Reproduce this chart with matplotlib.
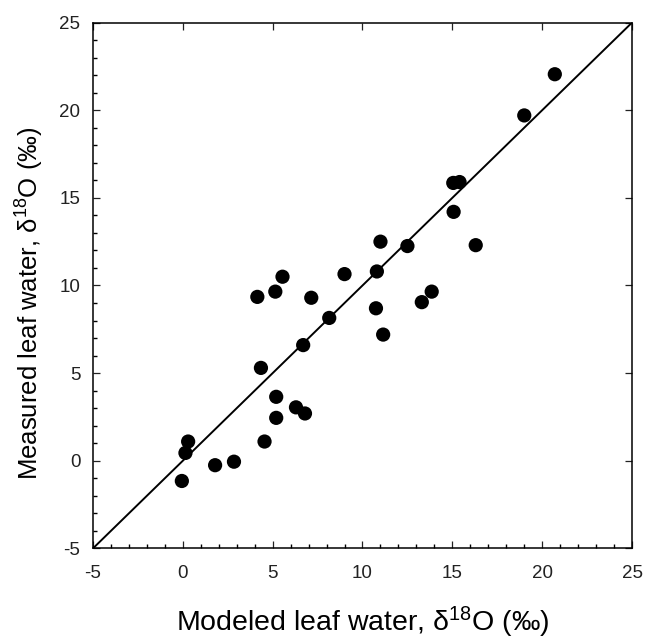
import matplotlib
matplotlib.use("Agg")
import matplotlib.pyplot as plt
from matplotlib.ticker import MultipleLocator

plt.rcParams['font.family'] = ['Liberation Sans', 'DejaVu Sans']
plt.rcParams['mathtext.fontset'] = 'custom'
plt.rcParams['mathtext.rm'] = 'Liberation Sans'
plt.rcParams['mathtext.it'] = 'Liberation Sans'
plt.rcParams['axes.unicode_minus'] = False

# modeled vs measured leaf water d18O (per mil)
modeled = [20.7, 19.0, 15.05, 15.4, 15.07, 16.3, 11.0, 12.5, 10.8, 9.0,
           5.55, 5.15, 4.15, 7.15, 13.85, 13.3, 10.75, 8.15, 11.15, 6.7,
           4.35, 5.2, 6.3, 6.8, 5.2, 4.55, 0.3, 0.15, 1.8, 2.85, -0.05]
measured = [22.05, 19.7, 15.85, 15.9, 14.2, 12.3, 12.5, 12.25, 10.8, 10.65,
            10.5, 9.65, 9.35, 9.3, 9.65, 9.05, 8.7, 8.15, 7.2, 6.6,
            5.3, 3.65, 3.05, 2.7, 2.45, 1.1, 1.1, 0.45, -0.25, -0.05, -1.15]
one_to_one = [-5, 25]
ticks = [-5, 0, 5, 10, 15, 20, 25]

fig = plt.figure(figsize=(6.45, 6.43), dpi=100)
ax = fig.add_axes([0.144, 0.147, 0.836, 0.818])

ax.plot(one_to_one, one_to_one, color='black', lw=1.4)
ax.scatter(modeled, measured, s=105, color='black', edgecolors='none', zorder=3)

ax.set_xlim(-5, 25)
ax.set_ylim(-5, 25)
ax.set_xticks(ticks)
ax.set_yticks(ticks)
ax.xaxis.set_minor_locator(MultipleLocator(1))
ax.yaxis.set_minor_locator(MultipleLocator(1))
ax.tick_params(which='major', direction='in', length=5, width=0.9,
               top=True, right=True, labelsize=13.5, colors='#222222')
ax.tick_params(axis='x', which='major', pad=12)
ax.tick_params(axis='y', which='major', pad=9)
ax.tick_params(which='minor', direction='in', length=3, width=1.0)
for s in ax.spines.values():
    s.set_linewidth(1.1)

ax.set_xlabel('Modeled leaf water, $\\mathrm{\\delta^{18}}$O (‰)', fontsize=20.5, labelpad=16)
ax.set_ylabel('Measured leaf water, $\\mathrm{\\delta^{18}}$O (‰)', fontsize=18.5)
ax.yaxis.set_label_coords(-0.087, 0.467)

fig.savefig('out.png', dpi=100)
